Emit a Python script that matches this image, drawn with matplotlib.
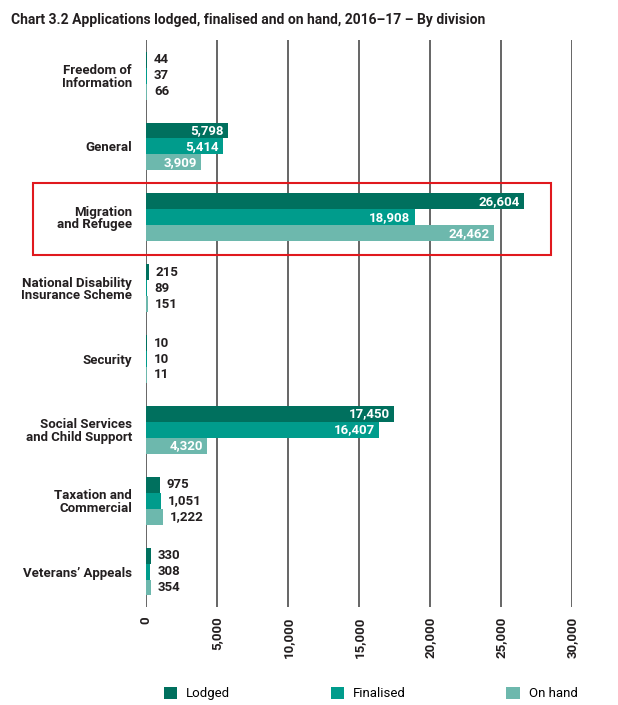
import numpy as np
import matplotlib
matplotlib.use('Agg')
import matplotlib.pyplot as plt
from matplotlib.patches import Rectangle, Patch

plt.rcParams['font.family'] = ['Roboto', 'DejaVu Sans']
fs = 9.5

# data
divisions = ['Freedom of\nInformation', 'General', 'Migration\nand Refugee',
             'National Disability\nInsurance Scheme', 'Security',
             'Social Services\nand Child Support', 'Taxation and\nCommercial',
             "Veterans’ Appeals"]
lodged = [44, 5798, 26604, 215, 10, 17450, 975, 330]
finalised = [37, 5414, 18908, 89, 10, 16407, 1051, 308]
on_hand = [66, 3909, 24462, 151, 11, 4320, 1222, 354]
series_names = ['Lodged', 'Finalised', 'On hand']
colors = ['#00705E', '#009C8C', '#6DB8AD']
x_ticks = [0, 5000, 10000, 15000, 20000, 25000, 30000]

fig = plt.figure(figsize=(6.18, 7.05), dpi=100)
ax = fig.add_axes([0.236, 0.139, 0.69, 0.804])

y = np.arange(len(divisions))
h = 0.225
txt_col = '#231F20'
for i, (vals, col) in enumerate(zip([lodged, finalised, on_hand], colors)):
    pos = y + (i - 1) * h
    # tiny values still get a visible sliver like in the original
    ax.barh(pos, [max(v, 90) for v in vals], height=h, color=col, zorder=3)
    for p, v in zip(pos, vals):
        lbl = f'{v:,}'
        if v > 2000:
            ax.annotate(lbl, (v, p), xytext=(-3, 0), textcoords='offset points',
                        ha='right', va='center', color='white', fontsize=fs,
                        fontweight='bold', zorder=4)
        else:
            ax.annotate(lbl, (max(v, 90), p), xytext=(5, 0), textcoords='offset points',
                        ha='left', va='center', color=txt_col, fontsize=fs,
                        fontweight='bold', zorder=4)

ax.set_ylim(len(divisions) - 0.5, -0.5)
ax.set_xlim(0, 30000)
ax.set_yticks(y)
ax.set_yticklabels(divisions, fontsize=fs, fontweight='bold', color=txt_col,
                   linespacing=0.95, multialignment='right')
ax.set_xticks(x_ticks)
ax.set_xticklabels([f'{t:,}' for t in x_ticks], rotation=90, fontsize=fs,
                   fontweight='bold', color=txt_col)
ax.tick_params(axis='both', length=0)
ax.tick_params(axis='y', pad=10)
ax.tick_params(axis='x', pad=7)
for s in ax.spines.values():
    s.set_visible(False)
ax.xaxis.grid(True, color='#3C3C3C', linewidth=1.1, zorder=0)
ax.set_axisbelow(True)

fig.text(0.018, 0.982, 'Chart 3.2 Applications lodged, finalised and on hand, 2016–17 – By division',
         fontsize=10, fontweight='bold', color=txt_col, ha='left', va='top')

# highlight box around Migration and Refugee
fig.patches.append(Rectangle((33 / 618, 1 - 255 / 705), (551 - 33) / 618, 72 / 705,
                             transform=fig.transFigure, fill=False,
                             edgecolor='#E0191E', linewidth=1.5))

handles = [Patch(facecolor=c, edgecolor='none') for c in colors]
fig.legend(handles, series_names, loc='center', bbox_to_anchor=(0.6, 0.016),
           ncol=3, frameon=False, fontsize=fs, columnspacing=7.6,
           handlelength=1.0, handleheight=1.0, handletextpad=0.7)

fig.savefig('out.png', dpi=100)
